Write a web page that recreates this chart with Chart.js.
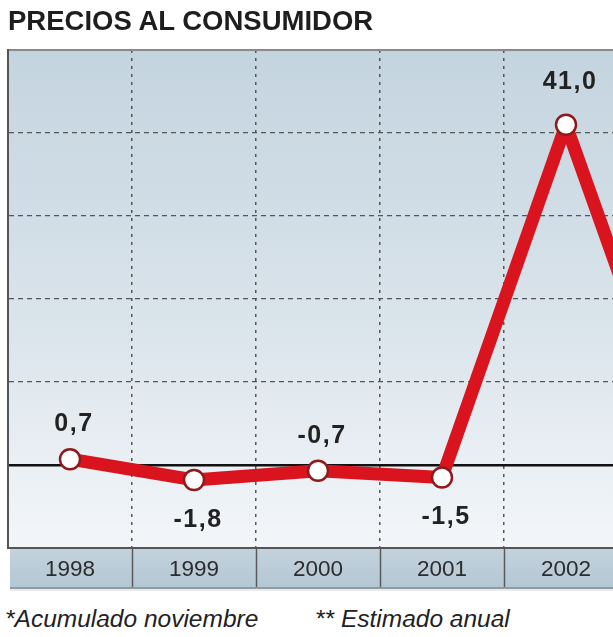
<!DOCTYPE html>
<html lang="es">
<head>
<meta charset="UTF-8">
<title>Precios al consumidor</title>
<script src="https://cdn.jsdelivr.net/npm/chart.js"></script>
<style>
  html, body { margin: 0; padding: 0; background: #fff; overflow: hidden; }
  body { width: 613px; height: 637px; position: relative; font-family: "Liberation Sans", Arial, sans-serif; }
  #title { position: absolute; left: 8px; top: 7px; font-size: 27.5px; line-height: 27px; font-weight: bold; color: #1e1e1e; white-space: nowrap; }
  #chart { position: absolute; left: 0; top: 0; }
  .note { position: absolute; top: 607px; font-size: 24.5px; line-height: 24.5px; font-style: italic; color: #222; white-space: nowrap; }
</style>
</head>
<body>
  <canvas id="chart" width="760" height="600"></canvas>
  <div id="title">PRECIOS AL CONSUMIDOR</div>
  <div class="note" style="left:5px">*Acumulado noviembre</div>
  <div class="note" style="left:315px">** Estimado anual</div>

<script>
// years along the bottom strip (the last one runs off the right edge)
const years = ['1998', '1999', '2000', '2001', '2002', '2003'];
// consumer price change, %
const prices = [0.7, -1.8, -0.7, -1.5, 41.0, -1.0];
// which points carry a printed value
const labelled = [true, true, true, true, true, false];
const yTicks = { min: -10, max: 50, step: 10 };

const FONT = '"Liberation Sans", Arial, sans-serif';

// shaded plot background and the year strip underneath
const backdrop = {
  id: 'backdrop',
  beforeDraw(chart) {
    const { ctx, chartArea: a } = chart;
    const g = ctx.createLinearGradient(0, a.top, 0, a.bottom);
    g.addColorStop(0, '#c4d4df');
    g.addColorStop(0.55, '#dae4eb');
    g.addColorStop(1, '#f3f6f9');
    ctx.save();
    ctx.fillStyle = g;
    ctx.fillRect(a.left, a.top, a.right - a.left, a.bottom - a.top);
    ctx.restore();
  },
  afterDraw(chart) {
    const { ctx, chartArea: a, scales: { x } } = chart;
    const top = a.bottom + 1, bottom = a.bottom + 39;
    ctx.save();
    const g = ctx.createLinearGradient(0, top, 0, bottom);
    g.addColorStop(0, '#c3d2dd');
    g.addColorStop(1, '#b4c7d4');
    ctx.fillStyle = g;
    ctx.fillRect(a.left + 2, top, a.right - a.left, bottom - top);
    ctx.fillStyle = '#8e9ba5';
    ctx.fillRect(a.left + 2, bottom, a.right - a.left, 2);
    ctx.fillStyle = 'rgba(0,0,0,0.08)';
    ctx.fillRect(a.left + 2, bottom + 2, a.right - a.left, 2);

    const step = x.getPixelForTick(1) - x.getPixelForTick(0);
    ctx.strokeStyle = '#5a5a5a';
    ctx.lineWidth = 1.5;
    for (let i = 1; i < years.length; i++) {
      const bx = Math.round(x.getPixelForTick(i) - step / 2) + 0.5;
      ctx.beginPath();
      ctx.moveTo(bx, a.bottom);
      ctx.lineTo(bx, bottom);
      ctx.stroke();
    }
    ctx.fillStyle = '#2c2c2c';
    ctx.font = '22.5px ' + FONT;
    ctx.textAlign = 'center';
    ctx.textBaseline = 'middle';
    years.forEach((yr, i) => ctx.fillText(yr, x.getPixelForTick(i), (top + bottom) / 2 + 2));
    ctx.restore();
  }
};

// value labels: above the point, or below it when it is a dip
const valueLabels = {
  id: 'valueLabels',
  afterDatasetsDraw(chart) {
    const { ctx } = chart;
    const pts = chart.getDatasetMeta(0).data;
    ctx.save();
    ctx.font = 'bold 25px ' + FONT;
    ctx.fillStyle = '#222';
    ctx.textAlign = 'center';
    ctx.textBaseline = 'middle';
    if ('letterSpacing' in ctx) ctx.letterSpacing = '1.5px';
    prices.forEach((v, i) => {
      if (!labelled[i]) return;
      const prev = i > 0 ? prices[i - 1] : -Infinity;
      const next = i < prices.length - 1 ? prices[i + 1] : -Infinity;
      const dip = i > 0 && v < prev && v < next;
      // a sharp peak needs more room above it for the thick line
      const sharp = v - Math.max(prev, next) > 10;
      const text = v.toFixed(1).replace('.', ',');
      const p = pts[i];
      const dy = dip ? 40 : -(sharp ? 43 : 35);
      ctx.fillText(text, p.x + 4, p.y + dy);
    });
    ctx.restore();
  }
};

new Chart(document.getElementById('chart'), {
  type: 'line',
  data: {
    labels: years,
    datasets: [{
      data: prices,
      borderColor: '#d9141e',
      borderWidth: 13,
      borderJoinStyle: 'round',
      borderCapStyle: 'round',
      tension: 0,
      pointRadius: 10,
      pointBorderWidth: 2.5,
      pointBorderColor: '#8e1a1d',
      pointBackgroundColor: '#ffffff',
      clip: false
    }]
  },
  options: {
    responsive: false,
    animation: false,
    events: [],
    layout: { autoPadding: false, padding: { top: 50, left: 8, right: 8, bottom: 52 } },
    plugins: { legend: { display: false }, tooltip: { enabled: false }, title: { display: false } },
    scales: {
      x: {
        offset: true,
        ticks: { display: false },
        grid: {
          offset: true,
          drawTicks: false,
          lineWidth: 1.5,
          color: c => c.index === 0 ? 'rgba(0,0,0,0)' : '#555'
        },
        border: { display: true, color: '#555', width: 2, dash: [3, 5] }
      },
      y: {
        min: yTicks.min,
        max: yTicks.max,
        ticks: { display: false, stepSize: yTicks.step },
        grid: {
          drawTicks: false,
          color: c => {
            const v = c.tick.value;
            if (v === yTicks.min) return 'rgba(0,0,0,0)';
            if (v === yTicks.max) return '#8a8a8a';
            return v === 0 ? '#111' : '#555';
          },
          lineWidth: c => (c.tick.value === 0 ? 2.5 : c.tick.value === yTicks.max ? 2 : 1.2)
        },
        border: {
          display: true,
          color: '#555',
          width: 2,
          dash: c => (c.tick && (c.tick.value === 0 || c.tick.value === yTicks.max) ? [] : [5, 4])
        }
      }
    }
  },
  plugins: [backdrop, valueLabels]
});
</script>
</body>
</html>
